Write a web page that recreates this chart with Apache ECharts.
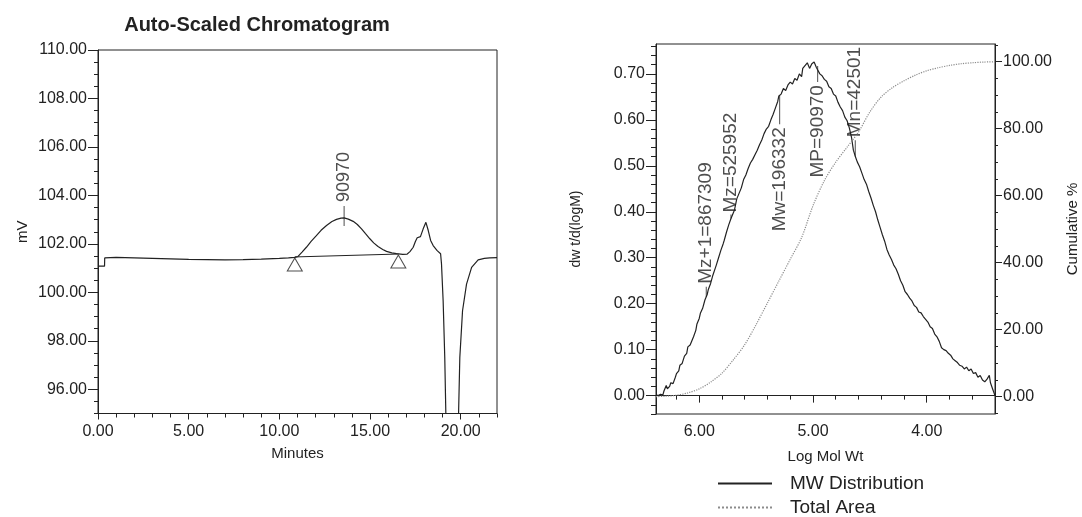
<!DOCTYPE html>
<html>
<head>
<meta charset="utf-8">
<script src="https://cdn.jsdelivr.net/npm/echarts@6/dist/echarts.min.js"></script>
<style>
  html, body { margin: 0; padding: 0; background: #fff; }
  #chart { width: 1082px; height: 517px; }
</style>
</head>
<body>
<div id="chart"></div>
<script>
// ---- Chromatogram (minutes vs mV) ----
const chromMinutes = [0.00, 0.36, 0.37, 1.0, 2.0, 3.0, 4.0, 5.0, 6.0, 7.0, 8.0, 9.0, 10.0, 10.5, 10.85,
  11.03, 11.25, 11.49, 11.75, 12.04, 12.3, 12.6, 12.9, 13.15, 13.4, 13.57, 13.8, 14.07, 14.3, 14.53,
  14.75, 14.99, 15.2, 15.44, 15.7, 15.91, 16.2, 16.46, 16.56, 16.8, 17.05, 17.2, 17.38, 17.5, 17.6,
  17.78, 17.93, 18.08, 18.21, 18.34, 18.48, 18.7, 18.89, 18.94, 19.03, 19.12, 19.2, 19.3, 19.5, 19.7,
  19.86, 19.95, 20.1, 20.32, 20.6, 20.96, 21.3, 21.6, 22.0];
const chromMV = [101.08, 101.08, 101.42, 101.44, 101.42, 101.40, 101.38, 101.36, 101.35, 101.34, 101.35,
  101.37, 101.40, 101.42, 101.44,
  101.48, 101.66, 101.86, 102.10, 102.34, 102.56, 102.76, 102.92, 103.01, 103.06, 103.07, 103.02, 102.93,
  102.80, 102.62, 102.42, 102.21, 102.04, 101.89, 101.77, 101.69, 101.63, 101.60, 101.58, 101.57, 101.58,
  101.68, 101.86, 102.10, 102.25, 102.30, 102.62, 102.89, 102.55, 102.14, 101.93, 101.72, 101.59, 101.17,
  99.65, 97.31, 94.2, 90.0, 88.0, 89.0, 94.3, 97.31, 99.24, 100.34, 101.03, 101.34, 101.40, 101.42, 101.43];

// Integration baseline (start / end of the peak)
const baseMinutes = [10.85, 16.56];
const baseMV = [101.46, 101.58];

// Peak apex and its label
const peakMinutes = 13.57;
const peakMV = 103.07;
const peakName = '90970';

const minuteTicks = [0, 5, 10, 15, 20];
const mvTicks = [96, 98, 100, 102, 104, 106, 108, 110];

// ---- Molecular weight distribution ----
const logMW = [6.38, 6.36, 6.34, 6.32, 6.31, 6.30, 6.29, 6.28, 6.26, 6.25, 6.23, 6.21, 6.20, 6.18, 6.17,
  6.15, 6.13, 6.11, 6.10, 6.08, 6.06, 6.05, 6.03, 6.02, 6.00, 5.99, 5.97, 5.95, 5.93, 5.92, 5.90, 5.88,
  5.87, 5.85, 5.83, 5.81, 5.79, 5.78, 5.76, 5.74, 5.72, 5.70, 5.69, 5.67, 5.65, 5.63, 5.61, 5.59, 5.57,
  5.55, 5.53, 5.51, 5.49, 5.47, 5.45, 5.43, 5.41, 5.39, 5.37, 5.35, 5.33, 5.31, 5.30, 5.28, 5.26, 5.24,
  5.22, 5.20, 5.18, 5.16, 5.14, 5.12, 5.10, 5.09, 5.07, 5.05, 5.03, 5.01, 4.99, 4.97, 4.96, 4.94, 4.92,
  4.90, 4.88, 4.86, 4.84, 4.82, 4.80, 4.78, 4.76, 4.74, 4.72, 4.70, 4.68, 4.66, 4.645, 4.63, 4.61, 4.59,
  4.57, 4.55, 4.53, 4.51, 4.49, 4.47, 4.45, 4.43, 4.41, 4.39, 4.37, 4.35, 4.33, 4.31, 4.29, 4.27, 4.25,
  4.23, 4.21, 4.19, 4.17, 4.15, 4.13, 4.11, 4.09, 4.07, 4.05, 4.03, 4.01, 3.99, 3.97, 3.95, 3.93, 3.91,
  3.89, 3.87, 3.85, 3.83, 3.81, 3.79, 3.77, 3.75, 3.73, 3.71, 3.69, 3.67, 3.65, 3.63, 3.61, 3.59, 3.57,
  3.55, 3.53, 3.51, 3.49, 3.47, 3.45, 3.44, 3.43, 3.42, 3.41, 3.40];
const dwdlogM = [0.002, 0.000, 0.003, 0.001, 0.010, 0.006, 0.022, 0.015, 0.020, 0.028, 0.026, 0.040, 0.048,
  0.054, 0.066, 0.070, 0.086, 0.092, 0.106, 0.110, 0.122, 0.128, 0.142, 0.156, 0.168, 0.179, 0.190, 0.208,
  0.220, 0.231, 0.244, 0.262, 0.266, 0.284, 0.300, 0.316, 0.330, 0.338, 0.356, 0.372, 0.386, 0.398, 0.404,
  0.428, 0.440, 0.452, 0.470, 0.480, 0.494, 0.506, 0.514, 0.524, 0.534, 0.546, 0.556, 0.570, 0.580, 0.586,
  0.600, 0.612, 0.626, 0.640, 0.652, 0.656, 0.668, 0.664, 0.676, 0.682, 0.678, 0.690, 0.686, 0.700, 0.694,
  0.712, 0.718, 0.724, 0.712, 0.722, 0.726, 0.714, 0.718, 0.700, 0.696, 0.688, 0.684, 0.672, 0.668, 0.656,
  0.652, 0.638, 0.628, 0.620, 0.606, 0.598, 0.582, 0.560, 0.534, 0.522, 0.508, 0.498, 0.484, 0.470, 0.460,
  0.444, 0.430, 0.414, 0.400, 0.382, 0.366, 0.350, 0.336, 0.318, 0.306, 0.296, 0.284, 0.276, 0.264, 0.250,
  0.240, 0.226, 0.220, 0.212, 0.206, 0.196, 0.192, 0.182, 0.180, 0.172, 0.166, 0.160, 0.150, 0.146, 0.134,
  0.128, 0.118, 0.104, 0.100, 0.098, 0.092, 0.088, 0.080, 0.076, 0.072, 0.066, 0.064, 0.058, 0.062, 0.054,
  0.058, 0.048, 0.050, 0.040, 0.044, 0.034, 0.030, 0.036, 0.044, 0.028, 0.024, 0.014, 0.010, 0.000];

// Cumulative area (%)
const cumLogMW = [6.38, 6.30, 6.20, 6.10, 6.00, 5.90, 5.80, 5.70, 5.60, 5.50, 5.40, 5.30, 5.20, 5.10, 5.00,
  4.90, 4.80, 4.70, 4.60, 4.50, 4.40, 4.30, 4.20, 4.10, 4.00, 3.90, 3.80, 3.70, 3.60, 3.50, 3.40];
const cumPercent = [0, 0.1, 0.4, 1.1, 2.3, 4.3, 7.0, 11.0, 15.5, 21.5, 28.0, 34.5, 41.0, 47.5, 57.0,
  64.5, 70.0, 74.5, 79.0, 85.0, 89.5, 92.3, 94.3, 96.0, 97.3, 98.2, 98.9, 99.4, 99.7, 99.9, 100];

// Molecular weight averages
const avgNames = ['Mz+1', 'Mz', 'Mw', 'MP', 'Mn'];
const avgValues = [867309, 525952, 196332, 90970, 42501];

const logTicks = [6, 5, 4];
const dwTicks = [0, 0.1, 0.2, 0.3, 0.4, 0.5, 0.6, 0.7];
const cumTicks = [0, 20, 40, 60, 80, 100];

// ---- drawing ----
const FONT = "'Liberation Sans', Arial, Helvetica, sans-serif";
const INK = '#222';
const pair = (xs, ys) => xs.map((x, i) => [x, ys[i]]);
const range = (a, b, s) => { const out = []; for (let v = a; v <= b + 1e-9; v += s) out.push(+v.toFixed(4)); return out; };
const fmt2 = v => (+v).toFixed(2);

// height of the distribution at a given log M (anchors the average markers)
function curveAt(lx) {
  for (let i = 1; i < logMW.length; i++) {
    const a = logMW[i - 1], b = logMW[i];
    if (lx <= a && lx >= b) {
      const t = (a - lx) / (a - b);
      return dwdlogM[i - 1] + t * (dwdlogM[i] - dwdlogM[i - 1]);
    }
  }
  return 0;
}

function majorAxis(extra) {
  return Object.assign({
    type: 'value',
    axisLine: { show: true, lineStyle: { color: INK, width: 1 } },
    splitLine: { show: false },
    nameTextStyle: { color: INK, fontFamily: FONT, fontSize: 15 }
  }, extra);
}
function minorAxis(extra, ticks, len) {
  return Object.assign({
    type: 'value',
    axisLine: { show: false },
    splitLine: { show: false },
    axisLabel: { show: false },
    axisTick: { show: true, length: len, customValues: ticks, lineStyle: { color: INK, width: 1 } }
  }, extra);
}
function tickLabels(values, margin) {
  return { color: INK, fontFamily: FONT, fontSize: 16, margin: margin, formatter: fmt2, customValues: values };
}

const chart = echarts.init(document.getElementById('chart'), null, { renderer: 'canvas' });

// Pixel gap between the curve and each average label: positive stands above
// the curve, negative hangs below it. Rotated labels take their offset in the
// text's own frame, where +x runs up the page.
const labelGap = { 'Mz+1': 13, 'Mz': 6, 'Mw': -32, 'MP': -19, 'Mn': 19 };
const avgPoints = avgNames.map((n, i) => {
  const lx = Math.log10(avgValues[i]);
  return { name: n, value: [lx, curveAt(lx)], text: n + '=' + avgValues[i], gap: labelGap[n] };
});

const option = {
  animation: false,
  backgroundColor: '#fff',
  graphic: [{
    type: 'text', x: 257, y: 25,
    style: { text: 'Auto-Scaled Chromatogram', fontFamily: FONT, fontSize: 20, fontWeight: 'bold',
      fill: INK, align: 'center', verticalAlign: 'middle' }
  }],
  grid: [
    { left: 98, top: 50, width: 399, height: 363.5, show: true, borderColor: INK, borderWidth: 1 },
    { left: 656, top: 44, width: 339, height: 370, show: true, borderColor: INK, borderWidth: 1 }
  ],
  legend: {
    data: ['MW Distribution', 'Total Area'],
    orient: 'vertical', left: 717, top: 474, padding: 0,
    itemWidth: 54, itemHeight: 1, itemGap: 5,
    itemStyle: { opacity: 0 },
    selectedMode: false,
    textStyle: { fontFamily: FONT, fontSize: 19, lineHeight: 18, color: INK, padding: [0, 0, 0, 13] }
  },
  xAxis: [
    majorAxis({ gridIndex: 0, position: 'bottom', min: 0, max: 22,
      name: 'Minutes', nameLocation: 'middle', nameGap: 33,
      axisTick: { length: 6, customValues: minuteTicks, lineStyle: { color: INK } },
      axisLabel: tickLabels(minuteTicks, 10) }),
    minorAxis({ gridIndex: 0, position: 'bottom', min: 0, max: 22 }, range(0, 22, 1), 4),
    majorAxis({ gridIndex: 1, position: 'bottom', min: 3.4, max: 6.38, inverse: true,
      name: 'Log Mol Wt', nameLocation: 'middle', nameGap: 35,
      axisTick: { length: 7, customValues: logTicks, lineStyle: { color: INK } },
      axisLabel: tickLabels(logTicks, 10) }),
    minorAxis({ gridIndex: 1, position: 'bottom', min: 3.4, max: 6.38, inverse: true }, range(3.4, 6.2, 0.2), 4)
  ],
  yAxis: [
    majorAxis({ gridIndex: 0, position: 'left', min: 95, max: 110,
      name: 'mV', nameLocation: 'middle', nameGap: 68, nameRotate: 90,
      axisTick: { length: 10, customValues: mvTicks, lineStyle: { color: INK } },
      axisLabel: tickLabels(mvTicks, 11) }),
    minorAxis({ gridIndex: 0, position: 'left', min: 95, max: 110 }, range(95, 110, 0.5), 4),
    majorAxis({ gridIndex: 1, position: 'left', min: -0.04, max: 0.765,
      name: 'dw t/d(logM)', nameLocation: 'middle', nameGap: 73, nameRotate: 90,
      nameTextStyle: { color: INK, fontFamily: FONT, fontSize: 14 },
      axisTick: { length: 10, customValues: dwTicks, lineStyle: { color: INK } },
      axisLabel: tickLabels(dwTicks, 11) }),
    minorAxis({ gridIndex: 1, position: 'left', min: -0.04, max: 0.765 }, range(-0.04, 0.76, 0.02), 5),
    majorAxis({ gridIndex: 1, position: 'right', min: -5.2, max: 105.3,
      name: 'Cumulative %', nameLocation: 'middle', nameGap: 70, nameRotate: 90,
      nameTextStyle: { color: INK, fontFamily: FONT, fontSize: 15 },
      axisTick: { length: 7, customValues: cumTicks, lineStyle: { color: INK } },
      axisLabel: tickLabels(cumTicks, 8) }),
    minorAxis({ gridIndex: 1, position: 'right', min: -5.2, max: 105.3 }, range(-5, 105, 5), 3)
  ],
  series: [
    {
      name: 'Chromatogram', type: 'line', xAxisIndex: 0, yAxisIndex: 0,
      data: pair(chromMinutes, chromMV), symbol: 'none', clip: true,
      lineStyle: { color: INK, width: 1.2 }
    },
    {
      name: 'Baseline', type: 'line', xAxisIndex: 0, yAxisIndex: 0,
      data: pair(baseMinutes, baseMV), symbol: 'none',
      lineStyle: { color: INK, width: 1 }
    },
    {
      name: 'Peak marks', type: 'scatter', xAxisIndex: 0, yAxisIndex: 0,
      data: pair(baseMinutes, baseMV),
      symbol: 'triangle', symbolSize: [15, 13], symbolOffset: [0, 7.5],
      itemStyle: { color: '#fff', borderColor: INK, borderWidth: 1 }, z: 3
    },
    {
      name: 'Peak tick', type: 'scatter', xAxisIndex: 0, yAxisIndex: 0,
      data: [[peakMinutes, peakMV]],
      symbol: 'rect', symbolSize: [1, 20], symbolOffset: [0, -2],
      itemStyle: { color: INK }, z: 4
    },
    {
      name: 'Peak label', type: 'scatter', xAxisIndex: 0, yAxisIndex: 0,
      data: [[peakMinutes, peakMV]], symbolSize: 0,
      label: { show: true, position: 'inside', formatter: peakName, rotate: 90, align: 'left',
        verticalAlign: 'middle', offset: [16, 0], fontFamily: FONT, fontSize: 18, color: INK }
    },
    {
      name: 'MW Distribution', type: 'line', xAxisIndex: 2, yAxisIndex: 2,
      data: pair(logMW, dwdlogM), symbol: 'none',
      lineStyle: { color: INK, width: 1.2 }, itemStyle: { color: INK }
    },
    {
      name: 'Total Area', type: 'line', xAxisIndex: 2, yAxisIndex: 4,
      data: pair(cumLogMW, cumPercent), symbol: 'none', smooth: 0.3,
      lineStyle: { color: '#8c8c8c', width: 1.2, type: 'dotted' }, itemStyle: { color: '#8c8c8c' }
    },
    {
      name: 'Average ticks', type: 'scatter', xAxisIndex: 2, yAxisIndex: 2,
      data: avgPoints.map(p => {
        const len = Math.max(Math.abs(p.gap) - 3, 4);
        return { name: p.name, value: p.value, symbolSize: [1, len],
          symbolOffset: [0, p.gap > 0 ? -len / 2 : len / 2] };
      }),
      symbol: 'rect', itemStyle: { color: INK }, z: 4
    },
    {
      name: 'Average labels', type: 'scatter', xAxisIndex: 2, yAxisIndex: 2,
      symbolSize: 0,
      data: avgPoints.map(p => ({
        name: p.name, value: p.value,
        label: p.gap > 0 ? { align: 'left', offset: [p.gap, 0] } : { align: 'right', offset: [p.gap, 0] }
      })),
      label: {
        show: true, position: 'inside', rotate: 90, verticalAlign: 'middle',
        fontFamily: FONT, fontSize: 19, color: INK,
        formatter: p => avgPoints[p.dataIndex].text
      }
    }
  ]
};

chart.setOption(option);
</script>
</body>
</html>
